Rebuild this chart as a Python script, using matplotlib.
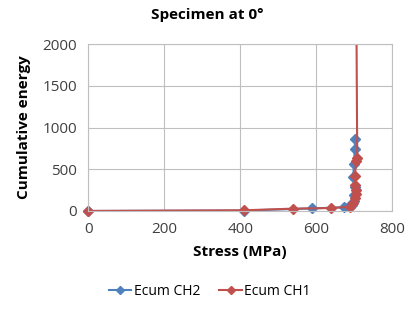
import matplotlib.pyplot as plt

# Ecum CH2 (blue)
stress_ch2 = [0, 410, 588, 672, 686, 694, 699, 700, 701, 697, 700, 701, 703]
energy_ch2 = [0, 5, 30, 45, 55, 70, 120, 190, 290, 410, 560, 740, 860]
# Ecum CH1 (red)
stress_ch1 = [0, 410, 540, 640, 688, 698, 702, 704, 705, 703, 702, 705, 708, 705]
energy_ch1 = [0, 8, 28, 35, 50, 90, 150, 200, 250, 310, 420, 600, 640, 3000]

blue = '#4F81BD'
red = '#C0504D'

plt.rcParams['font.family'] = ['Open Sans', 'DejaVu Sans']
fig = plt.figure(figsize=(4.06, 3.13), dpi=100)
ax = fig.add_axes([0.217, 0.326, 0.749, 0.533])

ax.plot(stress_ch2, energy_ch2, color=blue, marker='D', markersize=5, lw=1.5,
        label='Ecum CH2', clip_on=False)
ax.plot(stress_ch1, energy_ch1, color=red, lw=1.5)
ax.plot(stress_ch1, energy_ch1, color=red, marker='D', markersize=5, ls='none',
        markevery=slice(0, -1), clip_on=False)
# legend proxy for CH1
ax.plot([], [], color=red, marker='D', markersize=5, lw=1.5, label='Ecum CH1')

ax.set_xlim(0, 800)
ax.set_ylim(0, 2000)
ax.set_xticks([0, 200, 400, 600, 800])
ax.set_yticks([0, 500, 1000, 1500, 2000])
ax.grid(True, color='#BFBFBF', lw=0.8)
ax.set_axisbelow(True)
for s in ax.spines.values():
    s.set_color('#BFBFBF')
ax.tick_params(length=0, labelsize=11, colors='#404040', pad=8)

fig.suptitle('Specimen at 0°', x=0.51, y=0.975, fontsize=11, fontweight='bold')
ax.set_xlabel('Stress (MPa)', fontsize=11, fontweight='bold', labelpad=6)
ax.set_ylabel('Cumulative energy', fontsize=11, fontweight='bold', labelpad=8)

ax.legend(loc='upper center', bbox_to_anchor=(0.4, -0.36), ncol=2, frameon=False,
          fontsize=10, handlelength=1.6, handletextpad=0.2, columnspacing=1.4,
          markerscale=0.8)

fig.savefig('out.png')
